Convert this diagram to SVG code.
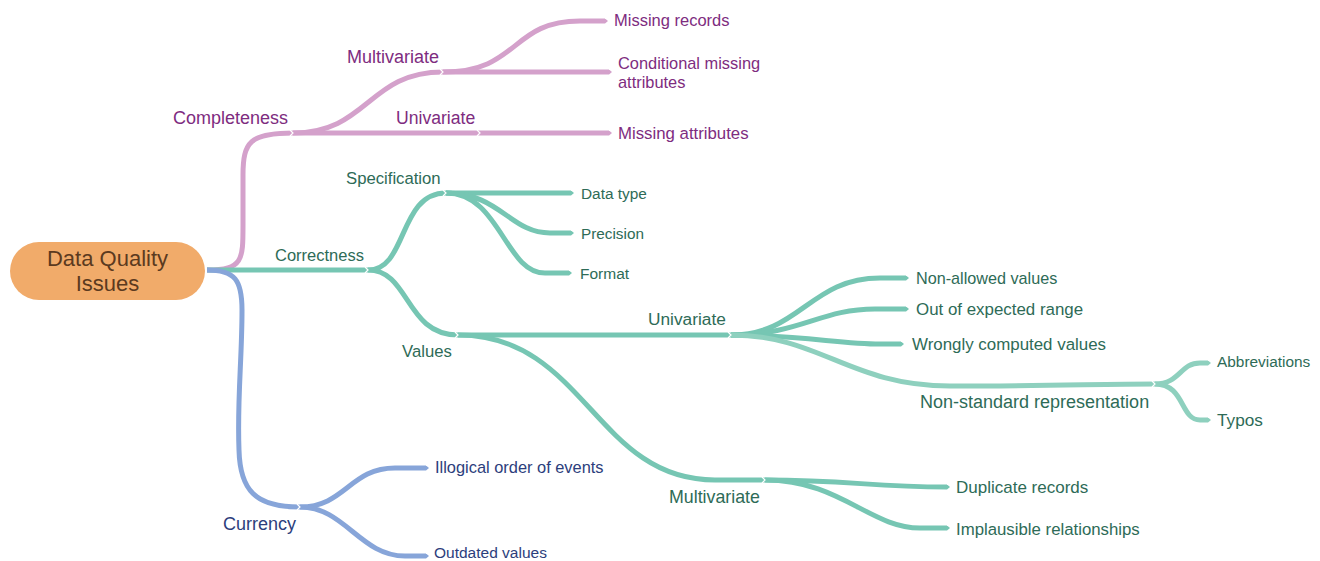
<svg xmlns="http://www.w3.org/2000/svg" width="1320" height="561" viewBox="0 0 1320 561">
  <style>
    text { font-family: "Liberation Sans", Arial, sans-serif; }
    .edge { fill: none; stroke-width: 5; stroke-linecap: butt; }
    .pink { stroke: #D4A1CB; }
    .teal { stroke: #76C6B3; }
    .teal2 { stroke: #8ED0BE; }
    .blue { stroke: #87A5D9; }
    .notch { fill: none; stroke: #ffffff; stroke-width: 1.2; }
    .tp { fill: #7E2C80; }
    .tt { fill: #2E6B57; }
    .tb { fill: #2C3E7C; }
  </style>
  <defs>
    <marker id="tip-pink" viewBox="0 -2.5 3 5" refX="0" refY="0" markerWidth="3" markerHeight="5" markerUnits="userSpaceOnUse" orient="auto">
      <path d="M0,-2.5 L3,0 L0,2.5 z" fill="#D4A1CB"/>
    </marker>
    <marker id="tip-teal" viewBox="0 -2.5 3 5" refX="0" refY="0" markerWidth="3" markerHeight="5" markerUnits="userSpaceOnUse" orient="auto">
      <path d="M0,-2.5 L3,0 L0,2.5 z" fill="#76C6B3"/>
    </marker>
    <marker id="tip-teal2" viewBox="0 -2.5 3 5" refX="0" refY="0" markerWidth="3" markerHeight="5" markerUnits="userSpaceOnUse" orient="auto">
      <path d="M0,-2.5 L3,0 L0,2.5 z" fill="#8ED0BE"/>
    </marker>
    <marker id="tip-blue" viewBox="0 -2.5 3 5" refX="0" refY="0" markerWidth="3" markerHeight="5" markerUnits="userSpaceOnUse" orient="auto">
      <path d="M0,-2.5 L3,0 L0,2.5 z" fill="#87A5D9"/>
    </marker>
  </defs>

  <g id="connectors">
    <!-- Completeness -->
    <path class="edge pink" d="M207,270 C 243,270 243,260 243,225 L243,175 C 243,142 250,133 293,133"/>
    <path class="edge pink" d="M293,133 C 368,133 368,72 443,72"/>
    <path class="edge pink" d="M293,133 L609,133" marker-end="url(#tip-pink)"/>
    <path class="edge pink" d="M443,72 L609,72" marker-end="url(#tip-pink)"/>
    <path class="edge pink" d="M443,72 C 520,72 510,21 580,21 L605,21" marker-end="url(#tip-pink)"/>

    <!-- Correctness -->
    <path class="edge teal" d="M207,270 L368,270"/>
    <path class="edge teal" d="M368,270 C 408,270 398,193 446,193"/>
    <path class="edge teal" d="M446,193 L571,193" marker-end="url(#tip-teal)"/>
    <path class="edge teal" d="M446,193 C 500,193 510,233 550,233 L571,233" marker-end="url(#tip-teal)"/>
    <path class="edge teal" d="M446,193 C 500,193 505,273 545,273 L569,273" marker-end="url(#tip-teal)"/>
    <path class="edge teal" d="M368,270 C 410,270 405,335 458,335"/>
    <path class="edge teal" d="M458,335 L731,335"/>
    <path class="edge teal" d="M731,335 C 800,335 810,278 880,278 L906,278" marker-end="url(#tip-teal)"/>
    <path class="edge teal" d="M731,335 C 800,335 820,309 875,309 L906,309" marker-end="url(#tip-teal)"/>
    <path class="edge teal" d="M731,335 C 800,335 840,344 880,344 L901,344" marker-end="url(#tip-teal)"/>
    <path class="edge teal2" d="M731,335 C 820,335 850,386 950,386 C 1050,386 1100,384 1155,384"/>
    <path class="edge teal2" d="M1155,384 C 1180,384 1180,363 1200,363 L1208,363" marker-end="url(#tip-teal2)"/>
    <path class="edge teal2" d="M1155,384 C 1185,384 1180,420 1200,420 L1208,420" marker-end="url(#tip-teal2)"/>
    <path class="edge teal" d="M458,335 C 585,335 595,480 715,480 L765,480"/>
    <path class="edge teal" d="M765,480 C 850,480 870,487 947,487" marker-end="url(#tip-teal)"/>
    <path class="edge teal" d="M765,480 C 840,480 870,528 920,528 L947,528" marker-end="url(#tip-teal)"/>

    <!-- Currency -->
    <path class="edge blue" d="M207,270 C 235,270 242,280 242,310 C 242,360 237,400 239,450 C 240,490 255,507 300,507"/>
    <path class="edge blue" d="M300,507 C 345,507 350,468 395,468 L426,468" marker-end="url(#tip-blue)"/>
    <path class="edge blue" d="M300,507 C 345,507 360,556 405,556 L426,556" marker-end="url(#tip-blue)"/>

    <!-- joint notches -->
    <polyline class="notch" points="290,130 293,133 290,136"/>
    <polyline class="notch" points="477,130 480,133 477,136"/>
    <polyline class="notch" points="440,69 443,72 440,75"/>
    <polyline class="notch" points="365,267 368,270 365,273"/>
    <polyline class="notch" points="443,190 446,193 443,196"/>
    <polyline class="notch" points="455,332 458,335 455,338"/>
    <polyline class="notch" points="728,332 731,335 728,338"/>
    <polyline class="notch" points="762,477 765,480 762,483"/>
    <polyline class="notch" points="1152,381 1155,384 1152,387"/>
    <polyline class="notch" points="297,504 300,507 297,510"/>
  </g>

  <g id="root">
    <rect x="10" y="242" width="195" height="58" rx="29" ry="29" fill="#F1AB6A"/>
    <text x="107.5" y="266" font-size="22" fill="#5B3A20" text-anchor="middle">Data Quality</text>
    <text x="107.5" y="291" font-size="22" fill="#5B3A20" text-anchor="middle">Issues</text>
  </g>

  <g id="completeness">
    <text class="tp" x="173" y="124" font-size="18">Completeness</text>
  </g>
  <g id="completeness-multivariate">
    <text class="tp" x="347" y="63" font-size="18">Multivariate</text>
  </g>
  <g id="missing-records">
    <text class="tp" x="614" y="26" font-size="16.5">Missing records</text>
  </g>
  <g id="conditional-missing">
    <text class="tp" x="618" y="69" font-size="16.4">Conditional missing</text>
    <text class="tp" x="618" y="88" font-size="16.4">attributes</text>
  </g>
  <g id="completeness-univariate">
    <text class="tp" x="396" y="124" font-size="17.6">Univariate</text>
  </g>
  <g id="missing-attributes">
    <text class="tp" x="618" y="139" font-size="16.8">Missing attributes</text>
  </g>

  <g id="correctness">
    <text class="tt" x="275" y="261" font-size="16.5">Correctness</text>
  </g>
  <g id="specification">
    <text class="tt" x="346" y="184" font-size="16.7">Specification</text>
  </g>
  <g id="data-type">
    <text class="tt" x="581" y="199" font-size="15.4">Data type</text>
  </g>
  <g id="precision">
    <text class="tt" x="581" y="239" font-size="15.3">Precision</text>
  </g>
  <g id="format">
    <text class="tt" x="580" y="279" font-size="15.5">Format</text>
  </g>
  <g id="values">
    <text class="tt" x="402" y="357" font-size="16.7">Values</text>
  </g>
  <g id="values-univariate">
    <text class="tt" x="648" y="325" font-size="17.3">Univariate</text>
  </g>
  <g id="non-allowed">
    <text class="tt" x="916" y="284" font-size="16.2">Non-allowed values</text>
  </g>
  <g id="out-of-range">
    <text class="tt" x="916" y="315" font-size="16.9">Out of expected range</text>
  </g>
  <g id="wrongly-computed">
    <text class="tt" x="912" y="350" font-size="16.9">Wrongly computed values</text>
  </g>
  <g id="non-standard">
    <text class="tt" x="920" y="408" font-size="18">Non-standard representation</text>
  </g>
  <g id="abbreviations">
    <text class="tt" x="1217" y="367" font-size="15.4">Abbreviations</text>
  </g>
  <g id="typos">
    <text class="tt" x="1217" y="426" font-size="17.2">Typos</text>
  </g>
  <g id="values-multivariate">
    <text class="tt" x="669" y="503" font-size="17.8">Multivariate</text>
  </g>
  <g id="duplicate-records">
    <text class="tt" x="956" y="493" font-size="17">Duplicate records</text>
  </g>
  <g id="implausible">
    <text class="tt" x="956" y="535" font-size="16.8">Implausible relationships</text>
  </g>

  <g id="currency">
    <text class="tb" x="223" y="530" font-size="18">Currency</text>
  </g>
  <g id="illogical-order">
    <text class="tb" x="435" y="473" font-size="16.4">Illogical order of events</text>
  </g>
  <g id="outdated">
    <text class="tb" x="434" y="558" font-size="15.5">Outdated values</text>
  </g>
</svg>
